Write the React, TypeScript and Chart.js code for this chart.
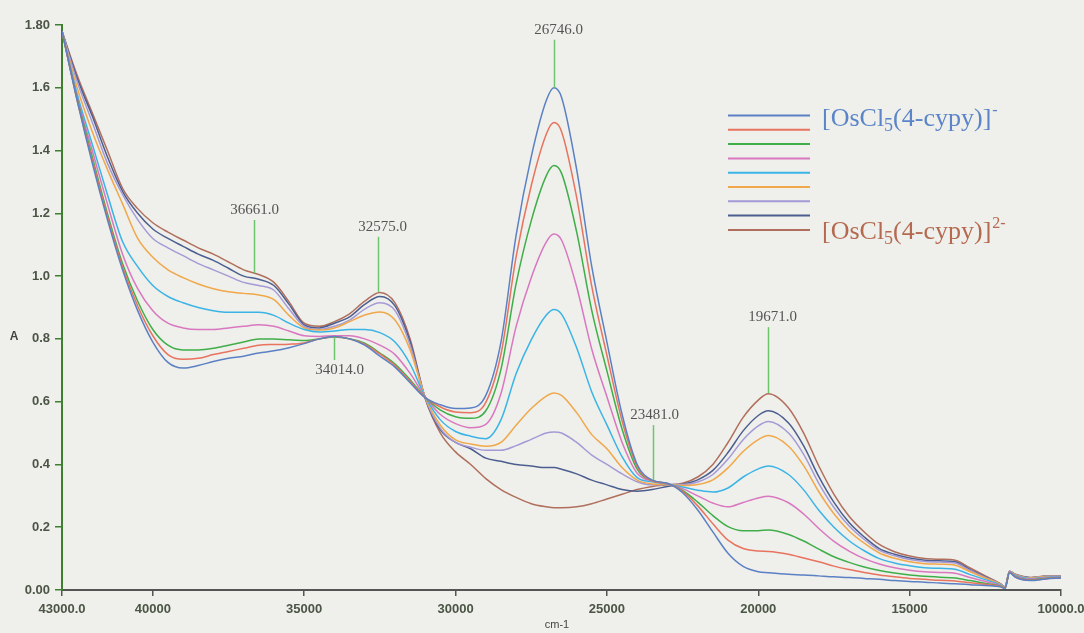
import React, { useEffect, useRef } from 'react';
import { Chart, registerables } from 'chart.js';

Chart.register(...registerables);

// ---------- data ----------
const wavenumbers = [
  43000, 42500, 42000, 41500, 41000, 40500, 40000, 39500, 39000, 38500,
  38000, 37500, 37000, 36500, 36000, 35500, 35000, 34500, 34000, 33500,
  33000, 32500, 32000, 31500, 31000, 30500, 30000, 29500, 29000, 28500,
  28000, 27500, 27000, 26750, 26500, 26000, 25500, 25000, 24500, 24000,
  23500, 23000, 22500, 22000, 21500, 21000, 20500, 20000, 19670, 19000,
  18500, 18000, 17500, 17000, 16500, 16000, 15500, 15000, 14500, 14000,
  13500, 13000, 12500, 12000, 11850, 11700, 11500, 11000, 10500, 10000,
];

const spectrum1 = [
  1.78, 1.56, 1.36, 1.18, 1.02, 0.89, 0.79, 0.725, 0.707, 0.715,
  0.728, 0.738, 0.745, 0.755, 0.762, 0.772, 0.785, 0.80, 0.808, 0.80,
  0.78, 0.745, 0.71, 0.66, 0.612, 0.59, 0.578, 0.58, 0.62, 0.79,
  1.13, 1.38, 1.56, 1.60, 1.57, 1.34, 1.03, 0.79, 0.56, 0.40,
  0.35, 0.34, 0.31, 0.255, 0.185, 0.117, 0.075, 0.058, 0.055, 0.05,
  0.048, 0.045, 0.042, 0.04, 0.037, 0.034, 0.03, 0.027, 0.025, 0.022,
  0.02, 0.017, 0.014, 0.01, 0.005, 0.055, 0.04, 0.03, 0.035, 0.038,
];
const spectrum2 = [
  1.78, 1.56, 1.37, 1.19, 1.03, 0.905, 0.81, 0.75, 0.735, 0.738,
  0.75, 0.76, 0.77, 0.78, 0.782, 0.783, 0.787, 0.80, 0.807, 0.80,
  0.783, 0.752, 0.715, 0.665, 0.613, 0.583, 0.567, 0.565, 0.598, 0.751,
  1.061, 1.288, 1.453, 1.489, 1.461, 1.251, 0.967, 0.748, 0.539, 0.393,
  0.348, 0.339, 0.314, 0.268, 0.211, 0.159, 0.132, 0.124, 0.123, 0.114,
  0.102, 0.09, 0.076, 0.065, 0.056, 0.048, 0.042, 0.037, 0.034, 0.031,
  0.029, 0.023, 0.018, 0.011, 0.006, 0.056, 0.041, 0.031, 0.036, 0.039,
];
const spectrum3 = [
  1.78, 1.565, 1.38, 1.20, 1.04, 0.92, 0.83, 0.78, 0.765, 0.765,
  0.77, 0.78, 0.79, 0.80, 0.80, 0.797, 0.795, 0.80, 0.806, 0.80,
  0.786, 0.755, 0.72, 0.67, 0.613, 0.573, 0.552, 0.547, 0.571, 0.703,
  0.975, 1.176, 1.32, 1.352, 1.328, 1.141, 0.89, 0.698, 0.513, 0.385,
  0.348, 0.339, 0.317, 0.28, 0.237, 0.202, 0.189, 0.189, 0.191, 0.177,
  0.156, 0.13, 0.106, 0.088, 0.073, 0.062, 0.054, 0.048, 0.044, 0.041,
  0.038, 0.03, 0.021, 0.012, 0.006, 0.056, 0.042, 0.032, 0.037, 0.04,
];
const spectrum4 = [
  1.78, 1.57, 1.40, 1.23, 1.07, 0.96, 0.89, 0.85, 0.835, 0.83,
  0.83, 0.835, 0.84, 0.845, 0.84, 0.825, 0.81, 0.808, 0.81, 0.81,
  0.80, 0.78, 0.75, 0.69, 0.615, 0.559, 0.53, 0.517, 0.528, 0.626,
  0.839, 0.995, 1.109, 1.134, 1.115, 0.966, 0.767, 0.616, 0.471, 0.372,
  0.347, 0.338, 0.323, 0.30, 0.277, 0.265, 0.279, 0.293, 0.299, 0.278,
  0.242, 0.196, 0.155, 0.124, 0.10, 0.083, 0.071, 0.063, 0.058, 0.056,
  0.053, 0.04, 0.027, 0.014, 0.007, 0.057, 0.044, 0.034, 0.039, 0.041,
];
const spectrum5 = [
  1.78, 1.58, 1.42, 1.26, 1.11, 1.03, 0.97, 0.935, 0.915, 0.90,
  0.89, 0.885, 0.885, 0.885, 0.875, 0.85, 0.83, 0.822, 0.825, 0.83,
  0.83, 0.82, 0.79, 0.72, 0.615, 0.542, 0.505, 0.49, 0.482, 0.542,
  0.689, 0.797, 0.876, 0.894, 0.879, 0.772, 0.631, 0.526, 0.425, 0.358,
  0.345, 0.337, 0.328, 0.318, 0.312, 0.325, 0.36, 0.386, 0.395, 0.368,
  0.319, 0.254, 0.20, 0.157, 0.125, 0.10, 0.086, 0.077, 0.071, 0.069,
  0.066, 0.049, 0.033, 0.016, 0.008, 0.058, 0.046, 0.036, 0.041, 0.042,
];
const spectrum6 = [
  1.78, 1.60, 1.46, 1.34, 1.23, 1.12, 1.06, 1.02, 0.995, 0.975,
  0.96, 0.95, 0.945, 0.94, 0.925, 0.875, 0.835, 0.828, 0.835, 0.855,
  0.876, 0.886, 0.86, 0.765, 0.614, 0.525, 0.478, 0.465, 0.458, 0.47,
  0.525, 0.578, 0.618, 0.628, 0.62, 0.565, 0.495, 0.45, 0.39, 0.35,
  0.338, 0.336, 0.333, 0.336, 0.351, 0.389, 0.441, 0.479, 0.492, 0.458,
  0.396, 0.313, 0.243, 0.188, 0.149, 0.118, 0.101, 0.09, 0.084, 0.082,
  0.079, 0.058, 0.038, 0.018, 0.009, 0.059, 0.048, 0.038, 0.043, 0.043,
];
const spectrum7 = [
  1.78, 1.62, 1.49, 1.36, 1.26, 1.18, 1.12, 1.09, 1.065, 1.04,
  1.02, 1.0, 0.98, 0.97, 0.955, 0.895, 0.84, 0.83, 0.84, 0.86,
  0.895, 0.915, 0.89, 0.78, 0.612, 0.515, 0.47, 0.455, 0.445, 0.445,
  0.46, 0.48, 0.50, 0.503, 0.50, 0.47, 0.43, 0.40, 0.37, 0.345,
  0.335, 0.336, 0.336, 0.344, 0.368, 0.417, 0.479, 0.523, 0.537, 0.50,
  0.432, 0.34, 0.263, 0.204, 0.161, 0.126, 0.109, 0.097, 0.091, 0.089,
  0.086, 0.062, 0.04, 0.019, 0.009, 0.059, 0.049, 0.039, 0.044, 0.044,
];
const spectrum8 = [
  1.78, 1.63, 1.51, 1.38, 1.27, 1.20, 1.15, 1.12, 1.095, 1.07,
  1.05, 1.025, 1.0, 0.99, 0.97, 0.91, 0.845, 0.835, 0.85, 0.87,
  0.91, 0.935, 0.905, 0.79, 0.61, 0.51, 0.47, 0.45, 0.42, 0.41,
  0.40, 0.395, 0.39, 0.39, 0.385, 0.37, 0.35, 0.335, 0.32, 0.315,
  0.32, 0.33, 0.337, 0.351, 0.381, 0.438, 0.507, 0.556, 0.571, 0.532,
  0.459, 0.361, 0.279, 0.215, 0.169, 0.132, 0.114, 0.102, 0.095, 0.093,
  0.09, 0.065, 0.042, 0.019, 0.01, 0.06, 0.049, 0.039, 0.044, 0.044,
];
const spectrum9 = [
  1.78, 1.64, 1.52, 1.40, 1.28, 1.215, 1.17, 1.14, 1.115, 1.09,
  1.07, 1.045, 1.02, 1.005, 0.98, 0.918, 0.85, 0.84, 0.855, 0.88,
  0.92, 0.948, 0.915, 0.80, 0.61, 0.50, 0.44, 0.40, 0.355, 0.32,
  0.295, 0.275, 0.265, 0.262, 0.262, 0.265, 0.275, 0.29, 0.305, 0.32,
  0.33, 0.335, 0.34, 0.36, 0.40, 0.47, 0.55, 0.605, 0.625, 0.58,
  0.50, 0.395, 0.305, 0.235, 0.185, 0.145, 0.122, 0.108, 0.10, 0.098,
  0.095, 0.07, 0.045, 0.02, 0.01, 0.06, 0.05, 0.04, 0.045, 0.045,
];

const seriesValues = [
  spectrum1, spectrum2, spectrum3, spectrum4, spectrum5,
  spectrum6, spectrum7, spectrum8, spectrum9,
];
const seriesColors = [
  '#5b80c4', '#e8735f', '#3fae49', '#d977c0', '#3ab4e6',
  '#f0a84a', '#a59ad6', '#4b5e8f', '#b06f5c',
];

const xTickValues = [43000, 40000, 35000, 30000, 25000, 20000, 15000, 10000];
const xTickLabels = ['43000.0', '40000', '35000', '30000', '25000', '20000', '15000', '10000.0'];
const yTickValues = [0, 0.2, 0.4, 0.6, 0.8, 1.0, 1.2, 1.4, 1.6, 1.8];
const yTickLabels = ['0.00', '0.2', '0.4', '0.6', '0.8', '1.0', '1.2', '1.4', '1.6', '1.80'];

const peakWavenumbers = [36661, 32575, 34014, 26746, 23481, 19671];
const peakLabels = ['36661.0', '32575.0', '34014.0', '26746.0', '23481.0', '19671.0'];
const peakAbsorbance = [1.01, 0.95, 0.806, 1.6, 0.35, 0.627];

// ---------- styles ----------
const BG = '#efefeb';
const peakStyle = [
  { len: 53, dir: 1, dx: 0 },
  { len: 55, dir: 1, dx: 4 },
  { len: 23, dir: -1, dx: 5 },
  { len: 48, dir: 1, dx: 4 },
  { len: 55, dir: 1, dx: 1 },
  { len: 66, dir: 1, dx: 4 },
];

const bgPlugin = {
  id: 'bg',
  beforeDraw(chart: any) {
    const { ctx, width, height } = chart;
    ctx.save();
    ctx.fillStyle = BG;
    ctx.fillRect(0, 0, width, height);
    ctx.restore();
  },
};

const peakPlugin = {
  id: 'peaks',
  afterDatasetsDraw(chart: any) {
    const { ctx, scales } = chart;
    const xs = scales.x;
    const ys = scales.y;
    ctx.save();
    peakWavenumbers.forEach((wn, i) => {
      const st = peakStyle[i];
      const px = Math.round(xs.getPixelForValue(wn)) + 0.5;
      const py = ys.getPixelForValue(peakAbsorbance[i]);
      const end = py - st.len * st.dir;
      ctx.strokeStyle = '#6cc46c';
      ctx.lineWidth = 1.5;
      ctx.beginPath();
      ctx.moveTo(px, py);
      ctx.lineTo(px, end);
      ctx.stroke();
      ctx.font = '15px "Liberation Serif", serif';
      ctx.fillStyle = '#555555';
      ctx.textAlign = 'center';
      ctx.textBaseline = 'middle';
      ctx.fillText(peakLabels[i], px + st.dx, end - 10 * st.dir);
    });
    ctx.restore();
  },
};

function drawFormula(ctx: any, x: number, y: number, color: string, sup: string) {
  ctx.fillStyle = color;
  ctx.textAlign = 'left';
  ctx.textBaseline = 'alphabetic';
  ctx.font = '26px "Liberation Serif", serif';
  let cx = x;
  ctx.fillText('[OsCl', cx, y);
  cx += ctx.measureText('[OsCl').width;
  ctx.font = '18px "Liberation Serif", serif';
  ctx.fillText('5', cx, y + 5);
  cx += ctx.measureText('5').width;
  ctx.font = '26px "Liberation Serif", serif';
  ctx.fillText('(4-cypy)]', cx, y);
  cx += ctx.measureText('(4-cypy)]').width;
  ctx.font = '16px "Liberation Serif", serif';
  ctx.fillText(sup, cx + 1, y - 11);
}

const legendPlugin = {
  id: 'customLegend',
  afterDraw(chart: any) {
    const { ctx } = chart;
    ctx.save();
    chart.data.datasets.forEach((ds: any, i: number) => {
      const y = 115.5 + i * 14.3;
      ctx.strokeStyle = ds.borderColor;
      ctx.lineWidth = 2;
      ctx.beginPath();
      ctx.moveTo(728, y);
      ctx.lineTo(810, y);
      ctx.stroke();
    });
    drawFormula(ctx, 822, 126, '#5b85c8', '-');
    drawFormula(ctx, 822, 239, '#b56a50', '2-');
    // axis titles
    ctx.fillStyle = '#444444';
    ctx.textAlign = 'center';
    ctx.textBaseline = 'middle';
    ctx.font = 'bold 12px "Liberation Sans", Arial, sans-serif';
    ctx.fillText('A', 14, 337);
    ctx.font = '11px "Liberation Sans", Arial, sans-serif';
    ctx.fillText('cm-1', 557, 625);
    ctx.restore();
  },
};

export default function App() {
  const ref = useRef<HTMLCanvasElement | null>(null);

  useEffect(() => {
    if (!ref.current) return;
    const datasets = seriesValues.map((vals, i) => ({
      label: 'spectrum ' + (i + 1),
      data: wavenumbers.map((w, j) => ({ x: w, y: vals[j] })),
      borderColor: seriesColors[i],
      backgroundColor: seriesColors[i],
      borderWidth: 1.5,
      pointRadius: 0,
      fill: false,
      cubicInterpolationMode: 'monotone' as const,
    }));
    const tickFont = { family: '"Liberation Sans", Arial, sans-serif', size: 13, weight: 'bold' as const };
    const chart = new Chart(ref.current, {
      type: 'line',
      data: { datasets },
      options: {
        responsive: false,
        animation: false,
        devicePixelRatio: 1,
        layout: { padding: { left: 0, right: 23, top: 25, bottom: 0 } },
        plugins: { legend: { display: false }, tooltip: { enabled: false } },
        scales: {
          x: {
            type: 'linear',
            reverse: true,
            min: 10000,
            max: 43000,
            afterBuildTicks: (s: any) => {
              s.ticks = xTickValues.map((v) => ({ value: v }));
            },
            afterFit: (s: any) => {
              s.height = 43;
              s.paddingLeft = 0;
              s.paddingRight = 0;
            },
            grid: { drawOnChartArea: false, drawTicks: true, tickLength: 6, color: '#555555', lineWidth: 1.5 },
            border: { display: true, color: '#555555', width: 2 },
            ticks: {
              autoSkip: false,
              maxRotation: 0,
              padding: 6,
              color: '#4b5545',
              font: tickFont,
              callback: (v: any) => {
                const k = xTickValues.indexOf(Number(v));
                return k >= 0 ? xTickLabels[k] : '';
              },
            },
          },
          y: {
            type: 'linear',
            min: 0,
            max: 1.8,
            afterBuildTicks: (s: any) => {
              s.ticks = yTickValues.map((v) => ({ value: v }));
            },
            afterFit: (s: any) => {
              s.width = 62;
              s.paddingTop = 0;
              s.paddingBottom = 0;
            },
            grid: { drawOnChartArea: false, drawTicks: true, tickLength: 7, color: '#3f7f30', lineWidth: 1.5 },
            border: { display: true, color: '#3f7f30', width: 2 },
            ticks: {
              autoSkip: false,
              padding: 5,
              color: '#4b5545',
              font: tickFont,
              callback: (v: any, idx: number) => yTickLabels[idx] ?? String(v),
            },
          },
        },
      },
      plugins: [bgPlugin, peakPlugin, legendPlugin],
    });
    return () => chart.destroy();
  }, []);

  return (
    <div style={{ position: 'fixed', left: 0, top: 0, width: 1084, height: 633, background: BG }}>
      <canvas ref={ref} width={1084} height={633} style={{ display: 'block' }} />
    </div>
  );
}
